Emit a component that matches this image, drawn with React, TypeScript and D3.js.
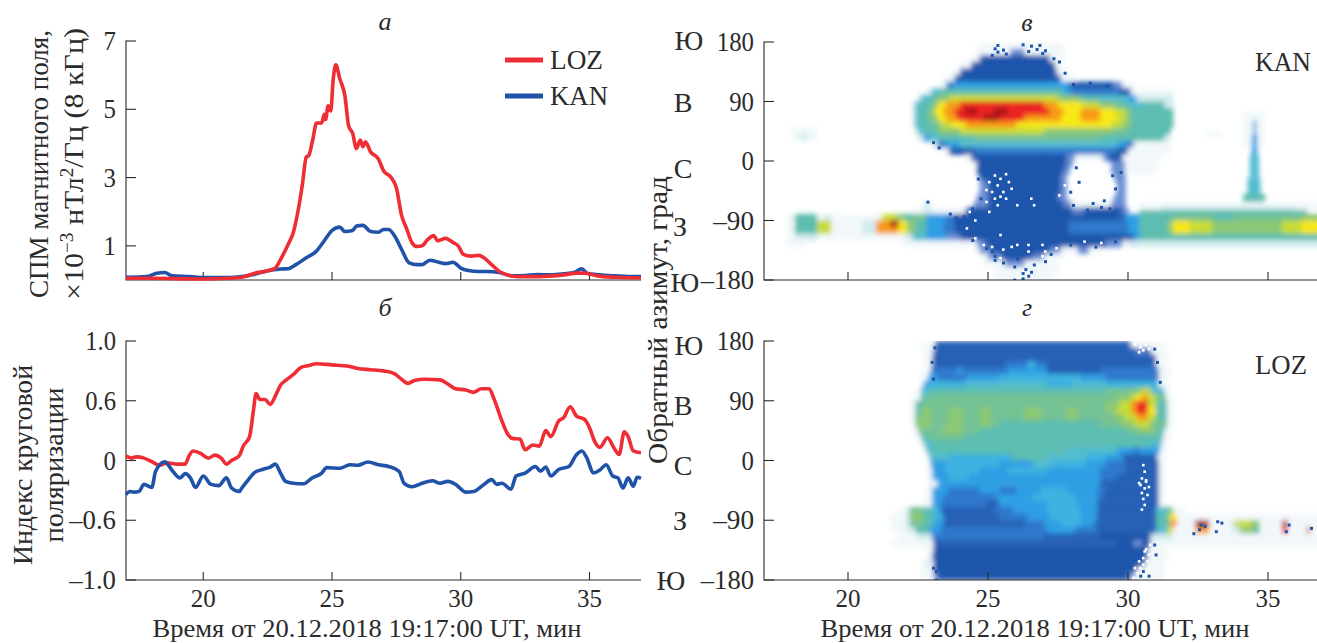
import React from "react";
import * as d3 from "d3";

const FONT = "'Liberation Serif', serif";
const INK = "#2b2b2b";
const RED = "#ee2e34";
const BLUE = "#1f52a8";

// Panel a: power spectral density [minute, value]
const spmLoz: [number, number][] = [[17,.05],[18,.05],[20,.03],[21,.05],[21.5,.08],[22,.2],[22.5,.27],[22.8,.35],[23,.6],[23.3,1.05],[23.5,1.4],[23.7,2.1],[23.85,2.8],[24,3.6],[24.1,3.65],[24.25,4.1],[24.4,4.6],[24.6,4.6],[24.7,4.85],[24.75,4.7],[24.85,5.1],[24.95,4.95],[25.05,5.9],[25.15,6.3],[25.3,5.9],[25.5,5.4],[25.65,4.5],[25.8,4.3],[25.95,3.85],[26.1,4.1],[26.2,3.9],[26.3,4.05],[26.5,3.75],[26.8,3.55],[27,3.2],[27.3,3],[27.5,2.7],[27.7,1.9],[27.9,1.5],[28.1,1.1],[28.3,.98],[28.5,1],[28.7,1.17],[28.95,1.3],[29.1,1.15],[29.4,1.22],[29.7,1.1],[29.9,1],[30.1,.75],[30.4,.7],[30.7,.72],[30.9,.65],[31.2,.45],[31.5,.25],[31.8,.15],[32.2,.1],[33,.1],[34,.15],[34.5,.2],[34.8,.2],[35.3,.12],[36,.08],[37,.06]];
const spmKan: [number, number][] = [[17,.08],[17.8,.1],[18.2,.2],[18.5,.22],[18.8,.12],[19.5,.1],[20,.07],[21,.07],[21.5,.1],[22,.17],[22.5,.27],[23,.32],[23.3,.33],[23.6,.45],[24,.65],[24.4,.85],[24.7,1.15],[25,1.45],[25.3,1.55],[25.5,1.42],[25.8,1.45],[25.95,1.58],[26.2,1.6],[26.5,1.42],[26.8,1.4],[27,1.48],[27.2,1.48],[27.5,1.2],[27.7,.9],[28,.5],[28.3,.45],[28.5,.45],[28.8,.58],[29,.55],[29.4,.48],[29.7,.52],[30,.35],[30.3,.28],[30.7,.25],[31,.25],[31.5,.22],[32,.12],[32.5,.13],[33,.16],[33.5,.15],[34,.18],[34.4,.22],[34.7,.33],[34.9,.2],[35.4,.15],[36,.12],[36.5,.1],[37,.1]];

// Panel b: circular polarisation index [minute, value]
const polLoz: [number, number][] = [[17,.04],[17.2,.02],[17.4,.03],[17.7,.02],[18,-.01],[18.3,-.04],[18.6,-.02],[19,-.03],[19.3,-.03],[19.45,.04],[19.6,.08],[19.9,.06],[20.2,.02],[20.45,.045],[20.7,.02],[20.9,-.03],[21.1,0],[21.4,.04],[21.55,.12],[21.8,.2],[21.95,.42],[22.05,.56],[22.2,.51],[22.4,.51],[22.6,.47],[22.8,.54],[23,.63],[23.2,.67],[23.5,.72],[23.8,.78],[24.1,.795],[24.4,.81],[25,.8],[25.6,.79],[26,.77],[26.5,.76],[27,.75],[27.4,.73],[27.7,.68],[27.95,.645],[28.2,.67],[28.6,.68],[29.2,.675],[29.5,.64],[29.8,.6],[30.2,.59],[30.5,.57],[30.8,.6],[31.1,.6],[31.3,.51],[31.6,.33],[31.8,.23],[32,.185],[32.3,.18],[32.5,.09],[32.8,.13],[33.05,.12],[33.3,.25],[33.5,.2],[33.8,.33],[34,.36],[34.25,.45],[34.5,.37],[34.8,.345],[35,.275],[35.2,.16],[35.4,.11],[35.7,.19],[35.95,.105],[36.15,.05],[36.35,.24],[36.5,.2],[36.7,.08],[37,.065]];
const polKan: [number, number][] = [[17,-.285],[17.15,-.26],[17.3,-.265],[17.5,-.26],[17.7,-.2],[18,-.225],[18.15,-.09],[18.5,-.01],[18.8,-.085],[19.1,-.145],[19.3,-.11],[19.5,-.145],[19.7,-.225],[20,-.13],[20.3,-.2],[20.6,-.21],[20.9,-.145],[21.1,-.23],[21.4,-.26],[21.5,-.23],[21.7,-.175],[22,-.1],[22.3,-.075],[22.6,-.055],[22.8,-.03],[23,-.105],[23.2,-.175],[23.5,-.19],[23.9,-.195],[24.2,-.15],[24.6,-.105],[24.8,-.06],[25.3,-.065],[25.7,-.035],[26,-.04],[26.4,-.012],[26.8,-.035],[27.2,-.05],[27.6,-.09],[27.8,-.19],[28.1,-.22],[28.5,-.19],[28.9,-.17],[29.2,-.19],[29.5,-.175],[29.8,-.2],[30.2,-.265],[30.5,-.26],[30.9,-.2],[31.2,-.16],[31.4,-.2],[31.6,-.19],[31.95,-.24],[32.15,-.13],[32.5,-.105],[32.9,-.05],[33.1,-.09],[33.3,-.055],[33.5,-.13],[33.8,-.075],[34.2,-.05],[34.5,.05],[34.7,.08],[34.9,.02],[35.15,-.105],[35.4,-.08],[35.65,-.035],[35.9,-.13],[36.1,-.145],[36.3,-.23],[36.5,-.145],[36.7,-.215],[36.85,-.14],[37,-.15]];

// Heat levels
const levels: Record<string, string> = {
  p: "#f2f8fa", q: "#d4ebee", m: "#6a8ed4",
  "1": "#1f55ab", d: "#2761b6", "2": "#2f78cc", "3": "#2f9fe4", c: "#3eb2e0", "4": "#52bcd0", "5": "#5cbdb0", g: "#74c294",
  "6": "#8cc874", "7": "#c8dc34", "8": "#f8e818", "9": "#f89a18", a: "#ec2420", b: "#a81418",
};

// Azimuth rows: row top (deg) and spans "startMinute:level", 10-degree bins
const kanRows: [number, string][] = [
  [180,"24.6:p 27.7:."],
  [170,"24.6:p 25.8:m 26.3:p 27.7:."],
  [160,"24.4:p 24.7:1 27.2:p 27.7:."],
  [150,"24:p 24.4:1 27.1:1 27.4:p 27.7:."],
  [140,"23.7:p 24:1 27.45:p 27.9:."],
  [130,"23.4:p 23.8:1 27.6:p 28.1:."],
  [120,"23.3:p 23.5:2 23.8:3 27.6:3 27.9:1 29.5:m 29.8:p 30.2:."],
  [110,"22.8:q 23:4 23.3:5 27.7:3 28:2 29.7:1 30.1:p 31.6:."],
  [100,"22.5:q 22.6:4 22.9:5 23.2:6 23.6:7 27.5:6 28.3:5 29:4 30:3 30.3:q 31.6:."],
  [90,"22.3:q 22.4:4 22.6:5 23:6 23.2:8 23.5:9 24:a 27:9 27.5:8 28.4:7 29:6 29.6:5 30.1:4 30.5:5 31.3:q 31.6:."],
  [80,"22.3:q 22.4:4 22.5:5 22.9:6 23.1:8 23.4:9 23.8:a 24.2:b 24.6:a 25.2:b 25.7:a 27.2:9 27.7:8 28.3:9 29:8 29.5:7 29.9:6 30.1:5 31.6:."],
  [70,"22.3:q 22.4:4 22.5:5 22.9:6 23.2:8 23.5:9 23.9:a 24.8:b 25.4:a 26.3:9 27.6:8 28.3:9 29:8 29.6:7 29.9:6 30.1:5 31.6:."],
  [60,"22.3:q 22.4:4 22.5:5 23:g 23.3:7 23.7:8 24.2:9 26:8 29.4:7 29.8:6 30.1:5 31.6:."],
  [50,"22.4:q 22.5:4 22.7:5 23.2:6 24:7 27:6 29.5:g 30:5 31.5:."],
  [40,"22.5:q 22.7:3 22.9:4 23.3:5 24.5:g 29:5 30.5:5 31.3:q 31.5:."],
  [30,"23:q 23.2:2 23.5:3 24:4 27:4 29.6:3 29.9:2 30.2:p 31.5:."],
  [20,"23.4:p 23.6:1 24.5:2 27:2 29.6:1 30:p 31.5:."],
  [10,"24.2:p 24.4:1 27.8:m 28.1:p 29.1:m 29.3:1 29.8:p 31.2:."],
  [0,"24.5:p 24.6:1 27.8:m 28:. 29.4:m 29.9:p 31:."],
  [-10,"24.6:1 27.7:m 27.9:. 29.4:m 29.9:p 31:."],
  [-20,"24.7:1 27.6:m 27.8:. 29.5:m 29.9:."],
  [-30,"24.7:m 25:1 27.6:m 27.8:. 29.6:m 29.9:."],
  [-40,"24.7:m 25:1 27.6:m 27.8:. 29.6:m 29.9:."],
  [-50,"24.6:m 25:1 27.5:m 27.8:. 29.5:m 29.9:."],
  [-60,"22.7:q 22.9:. 24.5:m 25:1 27.7:m 28:p 29.4:m 29.9:."],
  [-70,"22.3:p 22.7:q 23:p 24.2:1 28:m 28.4:1 29.8:m 30:."],
  [-80,"17.8:p 18.1:5 18.9:p 19.1:q 19.4:p 20.4:p 21.2:7 21.7:6 22:5 22.3:g 22.8:3 23.5:2 23.8:1 28:1 29.6:d 29.9:3 30.4:5 31.6:g 33:5 33.8:g 36.2:6 37:."],
  [-90,"17.8:p 18.1:5 18.9:7 19.4:p 20.5:q 21:9 21.5:b 21.8:8 22.1:6 22.4:5 22.8:3 23.4:2 23.8:1 27.8:1 27.9:2 29.8:2 30:3 30.4:5 31.4:6 31.6:8 32.2:7 33:6 34.5:6 35.5:7 36.2:8 37:8"],
  [-100,"17.8:p 18.1:5 18.9:7 19.4:p 20.5:q 21:9 21.5:9 21.8:8 22.1:6 22.4:5 22.8:3 23.4:2 23.8:1 27.8:1 27.9:2 29.8:2 30:3 30.4:5 31.4:6 31.6:8 32.2:7 33:6 34.5:6 35.5:7 36.2:8 37:8"],
  [-110,"17.8:p 18.1:q 18.9:p 21:p 22:q 22.3:4 22.8:3 23.5:m 24:1 29.9:1 30.2:3 30.4:5 32:5 37:5"],
  [-120,"17.8:p 18.5:. 22:p 24.6:m 24.9:1 27.8:1 29.2:m 29.8:p 30:q 37:p"],
  [-130,"24.5:p 24.7:m 25.1:1 27.2:m 27.6:p 28.2:m 28.6:p 29:."],
  [-140,"24.8:p 25:m 25.5:1 26.6:m 27:p 27.7:."],
  [-150,"24.8:p 25.6:m 26.3:p 27.5:."],
  [-160,"25.2:p 27.5:."],
  [-170,"25.2:p 27.4:."],
];
const lozRows: [number, string][] = [
  [180,"22.6:p 23.1:d 30:d 30.1:p 31.3:."],
  [170,"22.7:p 23.05:d 30.1:d 30.3:m 30.6:d 30.8:p 31.4:."],
  [160,"22.7:p 23:d 31:p 31.4:."],
  [150,"22.7:p 23:d 25.6:2 26.4:c 26.7:2 27.1:d 31:p 31.4:."],
  [140,"22.6:p 22.95:2 23.9:3 24.1:2 25.7:3 27.1:d 29:2 31.1:p 31.5:."],
  [130,"22.6:p 22.85:3 23.2:2 24.2:3 25.4:c 28.3:3 29.2:2 31.1:p 31.5:."],
  [120,"22.6:p 22.7:3 22.9:c 24.2:4 27.1:c 28:4 29.2:c 31.1:p 31.4:."],
  [110,"22.4:p 22.6:4 23:5 29.2:g 30.2:6 30.5:7 30.8:4 31.3:p 31.5:."],
  [100,"22.3:p 22.6:5 22.8:g 29.6:6 30.1:7 30.3:8 30.5:9 30.7:7 31:g 31.35:p 31.6:."],
  [90,"22.2:p 22.4:5 22.6:g 29.2:6 29.7:7 30.1:9 30.3:a 30.7:7 31:5 31.4:p 31.6:."],
  [80,"22.2:p 22.4:5 22.6:6 23:g 23.6:6 24.1:g 24.7:6 25.1:g 26.3:6 26.9:g 27.8:6 28.2:g 29.2:6 29.6:7 30.1:9 30.3:a 30.7:8 31:5 31.4:p 31.6:."],
  [70,"22.2:p 22.4:g 22.6:6 23:g 23.6:6 24.1:g 24.7:6 25.1:g 26.3:6 26.9:g 27.8:6 28.2:g 29.5:6 29.9:7 30.3:9 30.7:7 31:5 31.4:p 31.6:."],
  [60,"22.2:p 22.4:6 23:g 23.5:6 24.1:g 24.7:6 25.1:g 25.4:5 29:g 29.7:6 30.2:7 30.8:g 31.4:p 31.6:."],
  [50,"22.3:p 22.5:g 23.4:6 24.1:g 24.7:5 29:5 29.9:g 30.4:6 31:5 31.3:p 31.5:."],
  [40,"22.4:p 22.6:5 22.9:g 24.2:5 31.25:p 31.5:."],
  [30,"22.6:p 22.7:4 23:5 30.8:4 31.2:p 31.4:."],
  [20,"22.7:p 22.8:4 23:5 27.8:4 29.6:3 30.2:2 30.4:3 31.15:p 31.4:."],
  [10,"22.8:p 22.9:4 23.6:c 25.8:5 27.1:4 28.5:c 29.2:3 29.8:d 31.05:p 31.3:."],
  [0,"22.8:p 22.95:3 23.5:c 25.4:3 26.6:4 27.3:c 28.5:3 29.2:2 29.9:d 31.1:p 31.3:."],
  [-10,"22.8:p 23:3 23.5:c 24.7:3 25.7:c 27.1:3 29:2 29.9:d 31.1:p 31.3:."],
  [-20,"22.8:p 23:3 23.6:c 24.3:3 27.8:3 29:2 29.6:d 31.1:p 31.3:."],
  [-30,"22.8:p 23.2:3 29:d 31.1:p 31.3:."],
  [-40,"22.8:p 23:3 23.6:2 24.7:3 25.4:2 26:3 26.9:c 27.8:3 28.9:2 29.2:d 31.1:p 31.3:."],
  [-50,"22.7:p 23:3 23.4:2 25.3:3 26.6:c 28.1:3 28.9:2 29.1:d 31.1:p 31.3:."],
  [-60,"22.7:p 23:3 23.3:2 24.9:d 25.4:3 27.1:c 28.2:3 28.9:d 31.1:p 31.3:."],
  [-70,"21.8:p 22.05:q 22.2:g 22.7:5 23.05:c 23.3:d 25.2:2 25.9:3 27.1:c 28.3:3 28.9:d 31:4 31.4:g 31.6:p 32:."],
  [-80,"21.5:p 22.05:q 22.2:6 22.7:5 23.05:c 23.4:d 25.4:2 26.4:3 27.2:c 28.3:3 28.9:d 31:5 31.4:6 31.5:8 31.75:p 37:."],
  [-90,"21.5:p 22.05:q 22.2:g 22.7:5 23.05:3 23.4:d 26.3:2 27:3 27.6:c 28.3:3 28.8:d 31:5 31.5:9 31.75:p 32.4:b 32.9:p 33.7:q 33.8:7 34.4:6 34.7:p 35.5:b 35.7:p 37:p"],
  [-100,"21.5:p 22.1:q 22.4:5 22.9:3 23.3:2 27.1:3 28.1:2 28.9:d 31:4 31.4:7 31.6:p 32.4:9 32.9:p 33.7:q 34:6 34.5:5 34.7:p 35.5:a 35.7:p 36.4:b 36.5:p 37:p"],
  [-110,"21.8:p 22.5:q 23:2 27:d 28.4:d 29:1 30.8:q 31.6:p 37:p"],
  [-120,"21.5:p 22.9:p 23.05:d 29.6:1 30.2:m 30.5:1 30.8:p 31.5:p 37:."],
  [-130,"22.8:p 23.05:1 30.7:p 31.4:."],
  [-140,"22.8:p 23:1 30.7:p 31.4:."],
  [-150,"22.7:q 22.9:p 23.05:1 30.6:p 31.3:."],
  [-160,"22.6:p 23.05:1 30.3:p 31.3:."],
  [-170,"22.6:p 23.05:m 23.2:1 30:m 30.2:p 31.3:."],
];
// Narrow spike near minute 34.5 in the KAN panel and faint patches: [top az, bottom az, start, end, level]
const kanSpike: [number, number, number, number, string][] = [
  [75,20,34.1,34.9,"p"],[45,35,32.8,33.3,"p"],
  [62,40,34.47,34.58,"3"],[40,10,34.42,34.62,"3"],[10,-25,34.35,34.68,"4"],[-25,-50,34.27,34.73,"4"],[-50,-72,34.1,34.9,"5"],
];
const kanFaint: [number, number, number, number, string][] = [
  [52,30,18,18.9,"p"],[42,32,18.25,18.55,"q"],[-62,-76,30.4,37,"p"],[-68,-80,31.2,36,"q"],[-74,-80,30.4,36.4,"5"],
];

// Scattered pixels at the edges of the dark region [minute, azimuth]
const kanDark: [number, number][] = [[25.3,177],[26.2,178],[26.5,176],[26.8,177],[25.2,172],[25.5,170],[26.7,171],[25.3,167],[25.6,164],[26.4,168],[26.9,165],[27,169],[25.1,162],[27.3,157],[27.5,152],[27.7,135],[28,118],[28.6,120],[29.2,116],[28.1,-8],[28.2,-30],[27.9,-45],[29.4,-20],[29.5,-40],[29.7,-15],[28,-65],[28.5,-72],[29,-68],[25.2,-142],[27.2,-139],[25.2,-148],[25.5,-152],[27,-150],[26.6,-155],[26.3,-162],[26.5,-166],[25.9,-158],[26.4,-172],[26.2,-168],[25.9,-178],[26.2,-176],[24.6,-25],[24.7,-55],[24.4,-70],[24.3,-110],[24.1,-82],[23.9,-100],[24.4,-118],[27.9,-125],[28.8,-128],[29.5,-120],[23,30],[23.2,22],[23.6,-78],[23.8,-84],[22.8,-60],[28.7,-62],[29.1,-58],[29.3,-70],[24.9,-130],[25.1,-135],[26,-146]];
const kanWhite: [number, number][] = [[25.2,-20],[25.4,-25],[25.6,-18],[25.3,-35],[25.1,-45],[25.5,-45],[25.8,-40],[25.2,-55],[25.6,-55],[25.3,-65],[24.9,-60],[25,-75],[26.5,-55],[26,-65],[26.6,-65],[25.4,-110],[25,-30],[24.9,-42],[25.7,-30],[25.4,-52],[27.7,-35],[27.5,-50],[29.3,-25],[24.8,-125],[25.1,-128],[27.4,-130],[25.4,-145],[26.9,-142],[26,-125],[26.9,-125],[25.5,-132],[25.8,-128],[26.4,-135],[24.2,-100],[24.5,-115],[24.3,-75],[24.5,-88],[26.4,-125],[27,-135],[29,-122],[28.4,-120]];
const lozWhite: [number, number][] = [[30.2,177],[30.4,173],[30.6,176],[30.5,168],[30.35,165],[30.7,170],[30.5,-5],[30.55,-15],[30.45,-25],[30.6,-30],[30.4,-35],[30.55,-40],[30.45,-47],[30.65,-50],[30.5,-56],[30.55,-65],[30.45,-72],[30.6,-28],[30.35,-32],[30.7,-38],[30.75,-125],[30.6,-132],[30.7,-140],[30.5,-145],[30.35,-150],[30.5,-155],[30.2,-160],[30.3,-168],[30.55,-170],[30.15,-175],[30.45,-178],[30.7,-160],[30.55,-135],[30.65,-150],[30.4,-160],[30.6,-165]];
const lozDark: [number, number][] = [[22.95,150],[23,125],[23.05,172],[23.1,-165],[23,-160],[23.1,-178],[31.1,120],[31,150],[30.9,170],[30.95,-140],[30.7,-172],[30.5,-165],[30.9,-125],[30.4,-172],[33.3,-92],[32.5,-102],[32.55,-95],[32.7,-97],[33.1,-105],[35.6,-105],[35.7,-95],[36.5,-100],[32.3,-108],[33.15,-90]];

const xTicks = [20, 25, 30, 35];
const spmTicks = [1, 3, 5, 7];
const polTicks = [-1, -0.5, 0, 0.5, 1];
const polLabels = ["–1.0", "–0.6", "0", "0.6", "1.0"];
const azTicks = [-180, -90, 0, 90, 180];
const azLabels = ["–180", "–90", "0", "90", "180"];

const xL = d3.scaleLinear().domain([17, 37]).range([126, 641]);
const xR = d3.scaleLinear().domain([17, 37]).range([764, 1324]);
const ySpm = d3.scaleLinear().domain([0, 7]).range([280, 41]);
const yPol = d3.scaleLinear().domain([-1, 1]).range([580, 341]);
const yC = d3.scaleLinear().domain([-180, 180]).range([280, 42]);
const yD = d3.scaleLinear().domain([-180, 180]).range([580, 341]);

function numWidth(t: string) {
  return [...t].reduce((w, c) => w + (c === "." ? 6 : c === "–" ? 16 : 12.4), 0);
}

function Txt({ x, y, s = 28, a = "middle", rot, it, w, children }: any) {
  return (
    <text x={x} y={y} fontSize={s} textAnchor={a} fontStyle={it ? "italic" : undefined} fill={INK}
      fontFamily={FONT} textLength={w} lengthAdjust={w ? "spacingAndGlyphs" : undefined}
      transform={rot ? `rotate(-90 ${x} ${y})` : undefined}>{children}</text>
  );
}

function Heat({ id, rows, extra, dark, white, x, y }: any) {
  const rects: any[] = [];
  rows.forEach(([top, spec]: [number, string]) => {
    const toks = spec.split(" ").map((t) => t.split(":"));
    toks.forEach(([t, l], i) => {
      if (l === ".") return;
      const t1 = i + 1 < toks.length ? +toks[i + 1][0] : 37;
      rects.push(<rect key={`${top}-${i}`} x={x(+t)} width={Math.max(x(t1) - x(+t) + 0.5, 0)} y={y(top)} height={y(top - 10) - y(top) + 0.5} fill={levels[l]} />);
    });
  });
  const [x0, x1] = x.range();
  const [y0, y1] = y.range();
  return (
    <g clipPath={`url(#clip-${id})`}>
      <clipPath id={`clip-${id}`}><rect x={x0} y={y1} width={x1 - x0} height={y0 - y1} /></clipPath>
      <g filter="url(#soft)">
        {rects}
        {extra.map(([a, b, t0, t1, l]: any, i: number) => (
          <rect key={"e" + i} x={x(t0)} width={x(t1) - x(t0)} y={y(a)} height={y(b) - y(a)} fill={levels[l]} />
        ))}
      </g>
      {dark.map(([t, az]: number[], i: number) => <rect key={"d" + i} x={x(t)} y={y(az)} width={3} height={3} fill={levels["1"]} />)}
      {white.map(([t, az]: number[], i: number) => <rect key={"w" + i} x={x(t)} y={y(az)} width={2.6} height={2.6} fill="#fff" />)}
    </g>
  );
}

function Axes({ x, y, ticks, labels, xRight, labelX, showX }: any) {
  const [y0, y1] = y.range();
  const xl = x(17);
  return (
    <g stroke={INK} strokeWidth={1.1} fill="none">
      <path d={`M${xl},${y1 - 0.5}V${y0}H${xRight}`} />
      {xTicks.map((t) => <line key={t} x1={x(t)} x2={x(t)} y1={y0} y2={y0 - 8} />)}
      {ticks.map((t: number) => <line key={t} x1={xl} x2={xl + 10} y1={y(t)} y2={y(t)} />)}
      <g stroke="none">
        {ticks.map((t: number, i: number) => (
          <Txt key={t} x={labelX} y={y(t) + 9} a="end" w={numWidth(labels[i])}>{labels[i]}</Txt>
        ))}
        {showX && xTicks.map((t) => <Txt key={t} x={x(t)} y={y0 + 27} s={26} w={25}>{t}</Txt>)}
      </g>
    </g>
  );
}

const sup = (t: string) => <tspan dy={-10} fontSize={18}>{t}</tspan>;
const back = (t: string) => <tspan dy={10}>{t}</tspan>;

export default function App() {
  const line = (x: any, y: any) => d3.line<[number, number]>().x((d) => x(d[0])).y((d) => y(d[1])).curve(d3.curveMonotoneX);
  const la = line(xL, ySpm);
  const lb = line(xL, yPol);
  return (
    <svg width={1317} height={643} viewBox="0 0 1317 643" style={{ position: "absolute", left: 0, top: 0, background: "#fff" }}>
      <defs>
        <filter id="soft" x="-5%" y="-5%" width="110%" height="110%"><feGaussianBlur stdDeviation="2.8 2.4" /></filter>
      </defs>

      <Heat id="c" rows={kanRows} extra={[...kanSpike, ...kanFaint]} dark={kanDark} white={kanWhite} x={xR} y={yC} />
      <Heat id="d" rows={lozRows} extra={[]} dark={lozDark} white={lozWhite} x={xR} y={yD} />

      <Axes x={xL} y={ySpm} ticks={spmTicks} labels={spmTicks.map(String)} xRight={641} labelX={116} />
      <Axes x={xL} y={yPol} ticks={polTicks} labels={polLabels} xRight={641} labelX={116} showX />
      <Axes x={xR} y={yC} ticks={azTicks} labels={azLabels} xRight={1317} labelX={754} />
      <Axes x={xR} y={yD} ticks={azTicks} labels={azLabels} xRight={1317} labelX={754} showX />

      <path d={la(spmKan)!} fill="none" stroke={BLUE} strokeWidth={3.6} strokeLinejoin="round" />
      <path d={la(spmLoz)!} fill="none" stroke={RED} strokeWidth={3.6} strokeLinejoin="round" />
      <path d={lb(polLoz)!} fill="none" stroke={RED} strokeWidth={3.6} strokeLinejoin="round" />
      <path d={lb(polKan)!} fill="none" stroke={BLUE} strokeWidth={3.6} strokeLinejoin="round" />

      <line x1={505} x2={543} y1={60} y2={60} stroke={RED} strokeWidth={5} />
      <line x1={505} x2={543} y1={96} y2={96} stroke={BLUE} strokeWidth={5} />
      <Txt x={550} y={69} a="start" w={53}>LOZ</Txt>
      <Txt x={550} y={105} a="start" w={58}>KAN</Txt>

      <Txt x={385} y={30} it s={26}>а</Txt>
      <Txt x={385} y={316} it s={26}>б</Txt>
      <Txt x={1027} y={31} it s={26}>в</Txt>
      <Txt x={1027} y={316} it s={26}>г</Txt>

      <Txt x={1255} y={71} a="start" w={56}>KAN</Txt>
      <Txt x={1255} y={374} a="start" w={52}>LOZ</Txt>

      <Txt x={48} y={164} rot w={268}>СПМ магнитного поля,</Txt>
      <Txt x={83} y={164} rot w={272}>×10{sup("−3")}{back(" нТл")}{sup("2")}{back("/Гц (8 кГц)")}</Txt>
      <Txt x={32} y={465} rot w={200}>Индекс круговой</Txt>
      <Txt x={63} y={465} rot w={155}>поляризации</Txt>
      <Txt x={667} y={320} rot w={288}>Обратный азимут, град</Txt>

      {([[689,50,"Ю"],[683,112,"В"],[683,178,"С"],[680,236,"З"],[685,292,"Ю"],[689,355,"Ю"],[683,415,"В"],[683,475,"С"],[680,530,"З"],[671,590,"Ю"]] as [number,number,string][]).map(([x, y, t], i) => (
        <Txt key={i} x={x} y={y}>{t}</Txt>
      ))}

      <Txt x={367} y={637} s={26} w={429}>Время от 20.12.2018 19:17:00 UT, мин</Txt>
      <Txt x={1035} y={637} s={26} w={429}>Время от 20.12.2018 19:17:00 UT, мин</Txt>
    </svg>
  );
}
